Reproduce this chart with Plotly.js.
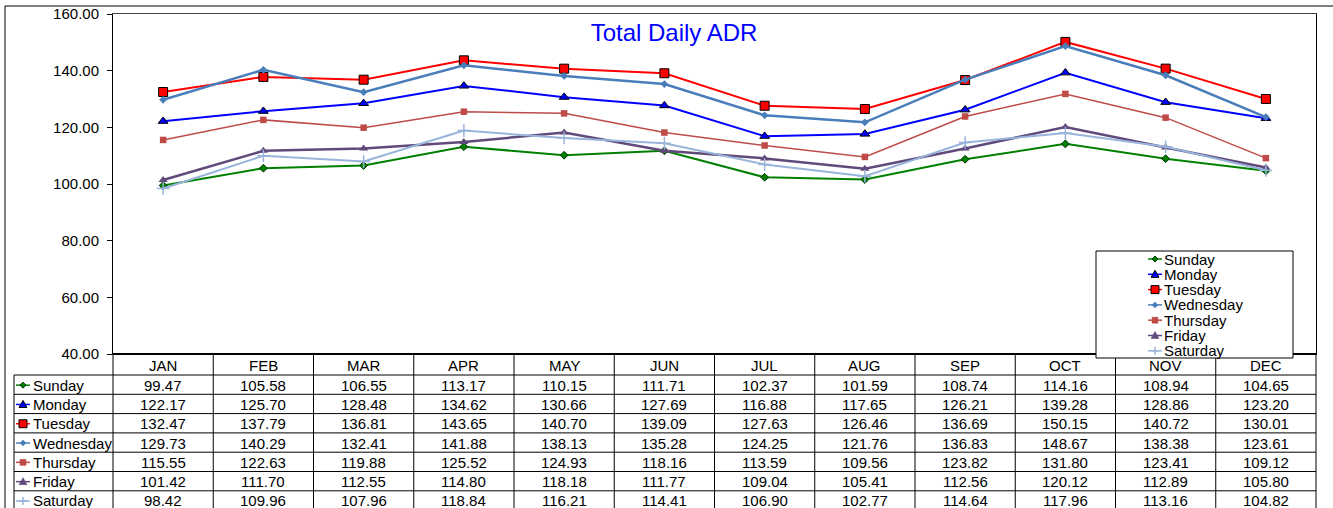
<!DOCTYPE html>
<html><head><meta charset="utf-8">
<script src="https://cdn.plot.ly/plotly-3.0.1.min.js"></script>
<style>html,body{margin:0;padding:0;background:#fff}#chart{width:1333px;height:508px}</style>
</head><body><div id="chart"></div><script>
// ---- data ----
const months = ['JAN','FEB','MAR','APR','MAY','JUN','JUL','AUG','SEP','OCT','NOV','DEC'];
const seriesNames = ['Sunday','Monday','Tuesday','Wednesday','Thursday','Friday','Saturday'];
const sunday    = [99.47,105.58,106.55,113.17,110.15,111.71,102.37,101.59,108.74,114.16,108.94,104.65];
const monday    = [122.17,125.70,128.48,134.62,130.66,127.69,116.88,117.65,126.21,139.28,128.86,123.20];
const tuesday   = [132.47,137.79,136.81,143.65,140.70,139.09,127.63,126.46,136.69,150.15,140.72,130.01];
const wednesday = [129.73,140.29,132.41,141.88,138.13,135.28,124.25,121.76,136.83,148.67,138.38,123.61];
const thursday  = [115.55,122.63,119.88,125.52,124.93,118.16,113.59,109.56,123.82,131.80,123.41,109.12];
const friday    = [101.42,111.70,112.55,114.80,118.18,111.77,109.04,105.41,112.56,120.12,112.89,105.80];
const saturday  = [98.42,109.96,107.96,118.84,116.21,114.41,106.90,102.77,114.64,117.96,113.16,104.82];
const yTickVals = [40,60,80,100,120,140,160];

// ---- styles ----
const seriesValues = [sunday,monday,tuesday,wednesday,thursday,friday,saturday];
const styles = [
  {color:'#008000', width:2,   sym:'diamond',     size:6,  mline:'#003300', mw:1, kind:'diamond', r:3},
  {color:'#0000FF', width:2,   sym:'triangle-up', size:8.5,mline:'#000000', mw:1, kind:'tri',     r:4},
  {color:'#FF0000', width:2,   sym:'square',      size:9,  mline:'#000000', mw:1, kind:'square',  r:4},
  {color:'#4A7EBB', width:2.5, sym:'diamond',     size:6,  mline:'#4A7EBB', mw:0, kind:'diamond', r:3},
  {color:'#BE4B48', width:1.5, sym:'square',      size:6.5,mline:'#BE4B48', mw:0, kind:'square',  r:3},
  {color:'#604A7B', width:2.5, sym:'triangle-up', size:8,  mline:'#604A7B', mw:0, kind:'tri',     r:4},
  {color:'#98B4DA', width:2,   sym:'cross-thin',  size:9,  mline:'#98B4DA', mw:1.5, kind:'plus',  r:4}
];
const FONT = 'Arial, "Liberation Sans", sans-serif';

const W=1333,H=508,L=113,R=1316,T=14,B=354;
const pw=R-L, ph=B-T;
const X = p => (p-L)/pw;
const Y = p => (B-p)/ph;

const traces = seriesNames.map((n,i)=>({
  type:'scatter', mode:'lines+markers', name:n,
  x: months.map((m,k)=>k), y: seriesValues[i],
  line:{color:styles[i].color, width:styles[i].width},
  marker:{symbol:styles[i].sym, size:styles[i].size, color:styles[i].color,
          line:{color:styles[i].mline, width:styles[i].mw}},
  cliponaxis:false, showlegend:false
}));

const shapes = [];
const annotations = [];
function hline(x0,x1,y,w,c){shapes.push({type:'line',xref:'paper',yref:'paper',x0:X(x0),x1:X(x1),y0:Y(y),y1:Y(y),line:{color:c||'#000',width:w||1}});}
function vline(x,y0,y1,w,c){shapes.push({type:'line',xref:'paper',yref:'paper',x0:X(x),x1:X(x),y0:Y(y0),y1:Y(y1),line:{color:c||'#000',width:w||1}});}

function key(cx,cy,i){
  const s=styles[i];
  shapes.push({type:'line',xref:'paper',yref:'paper',x0:X(cx-7),x1:X(cx+7),y0:Y(cy),y1:Y(cy),line:{color:s.color,width:1.5}});
  const r=s.r; let p;
  const P=(a,b)=>X(a)+','+Y(b);
  if(s.kind==='diamond') p='M'+P(cx,cy-r)+' L'+P(cx+r,cy)+' L'+P(cx,cy+r)+' L'+P(cx-r,cy)+' Z';
  else if(s.kind==='tri') p='M'+P(cx,cy-r)+' L'+P(cx+r,cy+r*0.75)+' L'+P(cx-r,cy+r*0.75)+' Z';
  else if(s.kind==='square') p='M'+P(cx-r,cy-r)+' L'+P(cx+r,cy-r)+' L'+P(cx+r,cy+r)+' L'+P(cx-r,cy+r)+' Z';
  else p='M'+P(cx,cy-r)+' L'+P(cx,cy+r)+' M'+P(cx-r,cy)+' L'+P(cx+r,cy);
  shapes.push({type:'path',xref:'paper',yref:'paper',path:p,
    fillcolor: s.kind==='plus'?'rgba(0,0,0,0)':s.color,
    line:{color: s.mw>0? s.mline : s.color, width: s.kind==='plus'?1.5:(s.mw>0?1:0.5)}});
}

// outer chart border
hline(5,W+2,6,1,'#000');
vline(5,6,H+2,1,'#000');

// table
const headerTop=354, headerBot=375, rowH=19.3;
const colW = pw/12;
for(let k=0;k<=12;k++) vline(L+colW*k, headerTop, H+2, 1, '#000');
vline(14, headerBot, H+2, 1, '#000');
hline(L, R, headerTop, 2, '#000');
for(let r=0;r<=7;r++) hline(14, R, headerBot+rowH*r, 1, '#000');

months.forEach((m,k)=>{
  annotations.push({xref:'x',yref:'paper',x:k,y:Y((headerTop+headerBot)/2+0.5),text:m,showarrow:false,
    xanchor:'center',yanchor:'middle',font:{family:FONT,size:15,color:'#000'}});
});
seriesNames.forEach((n,i)=>{
  const cy = headerBot + rowH*i + rowH/2 + 0.5;
  key(23, cy, i);
  annotations.push({xref:'paper',yref:'paper',x:X(30.5),y:Y(cy),text:n,showarrow:false,
    xanchor:'left',yanchor:'middle',font:{family:FONT,size:15,color:'#000'}});
  seriesValues[i].forEach((v,k)=>{
    annotations.push({xref:'x',yref:'paper',x:k,y:Y(cy),text:v.toFixed(2),showarrow:false,
      xanchor:'center',yanchor:'middle',font:{family:FONT,size:15,color:'#000'}});
  });
});

// legend box
shapes.push({type:'rect',xref:'paper',yref:'paper',x0:X(1096),x1:X(1293),y0:Y(251),y1:Y(358),
  fillcolor:'#FFFFFF',line:{color:'#000',width:1}});
seriesNames.forEach((n,i)=>{
  const cy = 259 + 15.3*i;
  key(1155, cy, i);
  annotations.push({xref:'paper',yref:'paper',x:X(1161.5),y:Y(cy),text:n,showarrow:false,
    xanchor:'left',yanchor:'middle',font:{family:FONT,size:15,color:'#000'}});
});

const layout = {
  width:W, height:H,
  margin:{l:L,r:W-R,t:T,b:H-B,pad:0},
  paper_bgcolor:'#fff', plot_bgcolor:'#fff',
  showlegend:false,
  title:{text:'Total Daily ADR', font:{family:FONT,size:24,color:'#0000FF'},
         x:674/W, xref:'container', xanchor:'center', y:1-33/H, yref:'container', yanchor:'middle'},
  xaxis:{range:[-0.5,11.5], showticklabels:false, ticks:'', showgrid:false, zeroline:false,
         showline:true, mirror:true, linecolor:'#444', linewidth:1, fixedrange:true},
  yaxis:{range:[40,160], tickvals:yTickVals, ticktext:yTickVals.map(v=>v.toFixed(2)),
         ticks:'outside', ticklen:5, tickcolor:'#000', showgrid:false, zeroline:false,
         showline:true, mirror:true, linecolor:'#000', linewidth:1, ticklabelstandoff:5,
         tickfont:{family:FONT,size:15,color:'#000'}, fixedrange:true},
  shapes:shapes, annotations:annotations
};
Plotly.newPlot('chart', traces, layout, {displayModeBar:false, staticPlot:true});
</script></body></html>
